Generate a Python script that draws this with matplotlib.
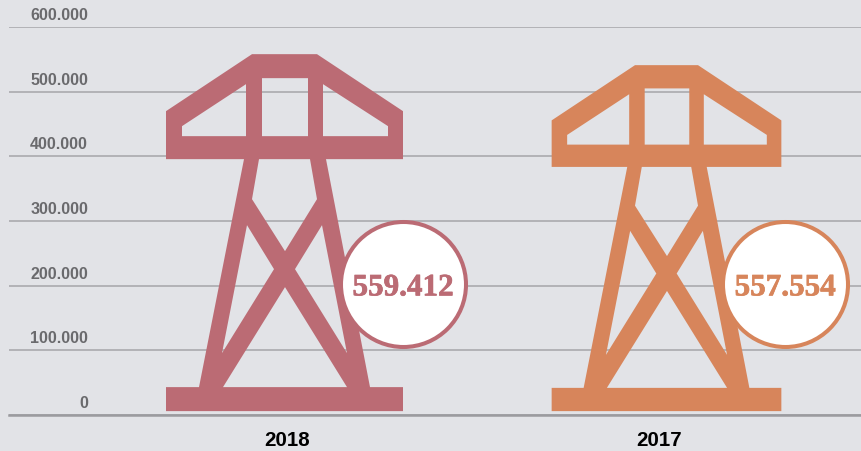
import numpy as np
import matplotlib
matplotlib.use("Agg")
import matplotlib.pyplot as plt
import matplotlib.patheffects as pe
from matplotlib.path import Path
from matplotlib.patches import PathPatch
from matplotlib.transforms import ScaledTranslation

plt.rcParams['font.family'] = ['Liberation Sans', 'DejaVu Sans']

# data
years = ['2018', '2017']
values = [559412, 557554]
value_labels = ['559.412', '557.554']
tower_tops = [558000, 541000]   # height of each pictogram as read on the axis
y_ticks = [0, 100000, 200000, 300000, 400000, 500000, 600000]
y_tick_labels = ['0', '100.000', '200.000', '300.000', '400.000', '500.000', '600.000']
colors = ['#bb6b74', '#d7855b']

BG = '#e2e3e7'
W, H = 862, 452
fig = plt.figure(figsize=(W / 100, H / 100), dpi=100, facecolor=BG)
y0_px, y600_px = 416, 28
ax = fig.add_axes([9 / W, 1 - y0_px / H, (W - 9) / W, (y0_px - y600_px) / H], facecolor='none')
ax.set_ylim(0, 600000)
sp = 382.0
c0 = 284.5
ax.set_xlim((9 - c0) / sp, (W - c0) / sp)

# pictogram outline (normalised 0..1 over the tower's box)
def norm(pts):
    a = np.array(pts, float)
    return np.column_stack([(a[:, 0] - 166) / 237, (411 - a[:, 1]) / 357])

outer = norm([(166, 411), (403, 411), (403, 387), (370, 387), (326, 159), (403, 159), (403, 111),
              (317, 54), (252, 54), (166, 111), (166, 159), (244, 159), (199, 387), (166, 387)])
holes = [norm(h) for h in [
    [(182, 126), (182, 136), (246, 136), (246, 84)],
    [(262, 78), (262, 136), (308, 136), (308, 78)],
    [(323, 84), (323, 136), (388, 136), (388, 126)],
    [(259, 159), (252, 199), (285, 251), (317, 199), (310, 159)],
    [(247, 225), (222, 353), (274, 269)],
    [(322, 225), (295, 269), (347, 353)],
    [(285, 287), (223, 387), (347, 387)],
]]

def area(p):
    x, y = p[:, 0], p[:, 1]
    return 0.5 * np.sum(x * np.roll(y, -1) - y * np.roll(x, -1))

def oriented(p, positive):
    return p if (area(p) > 0) == positive else p[::-1]

rings = [oriented(outer, True)] + [oriented(h, False) for h in holes]

base = 6000
width_per_unit = (237 / sp) / (tower_tops[0] - base)
for i, top in enumerate(tower_tops):
    w = width_per_unit * (top - base)
    verts, codes = [], []
    for r in rings:
        xy = np.column_stack([i + (r[:, 0] - 0.5) * w, base + r[:, 1] * (top - base)])
        verts += list(xy) + [xy[0]]
        codes += [Path.MOVETO] + [Path.LINETO] * (len(xy) - 1) + [Path.CLOSEPOLY]
    ax.add_patch(PathPatch(Path(verts, codes), facecolor=colors[i], edgecolor='none', zorder=3))

    cx = i + 118.5 / sp
    ax.scatter([cx], [202000], s=(125 * 0.72) ** 2, facecolor='white', edgecolor=colors[i],
               linewidth=2.9, zorder=4, clip_on=False)
    ax.text(cx, 202000, value_labels[i], ha='center', va='center_baseline', color=colors[i],
            fontsize=22.4, fontweight='bold', family=['Liberation Serif', 'DejaVu Serif'], zorder=5,
            path_effects=[pe.withStroke(linewidth=0.5, foreground=colors[i])])

# axes
for s in ['top', 'right', 'left']:
    ax.spines[s].set_visible(False)
ax.spines['bottom'].set_color('#9b9b9f')
ax.spines['bottom'].set_linewidth(1.8)
ax.set_yticks(y_ticks)
ax.set_yticklabels(y_tick_labels, fontsize=11.5, fontweight='bold', color='#6a6a6d', va='bottom', ha='right')
ax.set_xticks([0, 1])
ax.set_xticklabels(years, fontsize=14.8, fontweight='bold', color='#000000')
ax.tick_params(axis='y', length=0, pad=-79 * 0.72)
ax.tick_params(axis='x', length=0, pad=10.8)
ax.set_axisbelow(True)
ax.grid(axis='y', color='#aeaeb2', linewidth=1.3, zorder=1)
ax.grid(axis='x', visible=False)
for lab in ax.get_yticklabels():
    lab.set_transform(lab.get_transform() + ScaledTranslation(0, 5 / 100, fig.dpi_scale_trans))
for lab, dx in zip(ax.get_xticklabels(), [2.3, -7.5]):
    lab.set_transform(lab.get_transform() + ScaledTranslation(dx / 100, 0, fig.dpi_scale_trans))

fig.savefig('out.png', dpi=100, facecolor=BG)
